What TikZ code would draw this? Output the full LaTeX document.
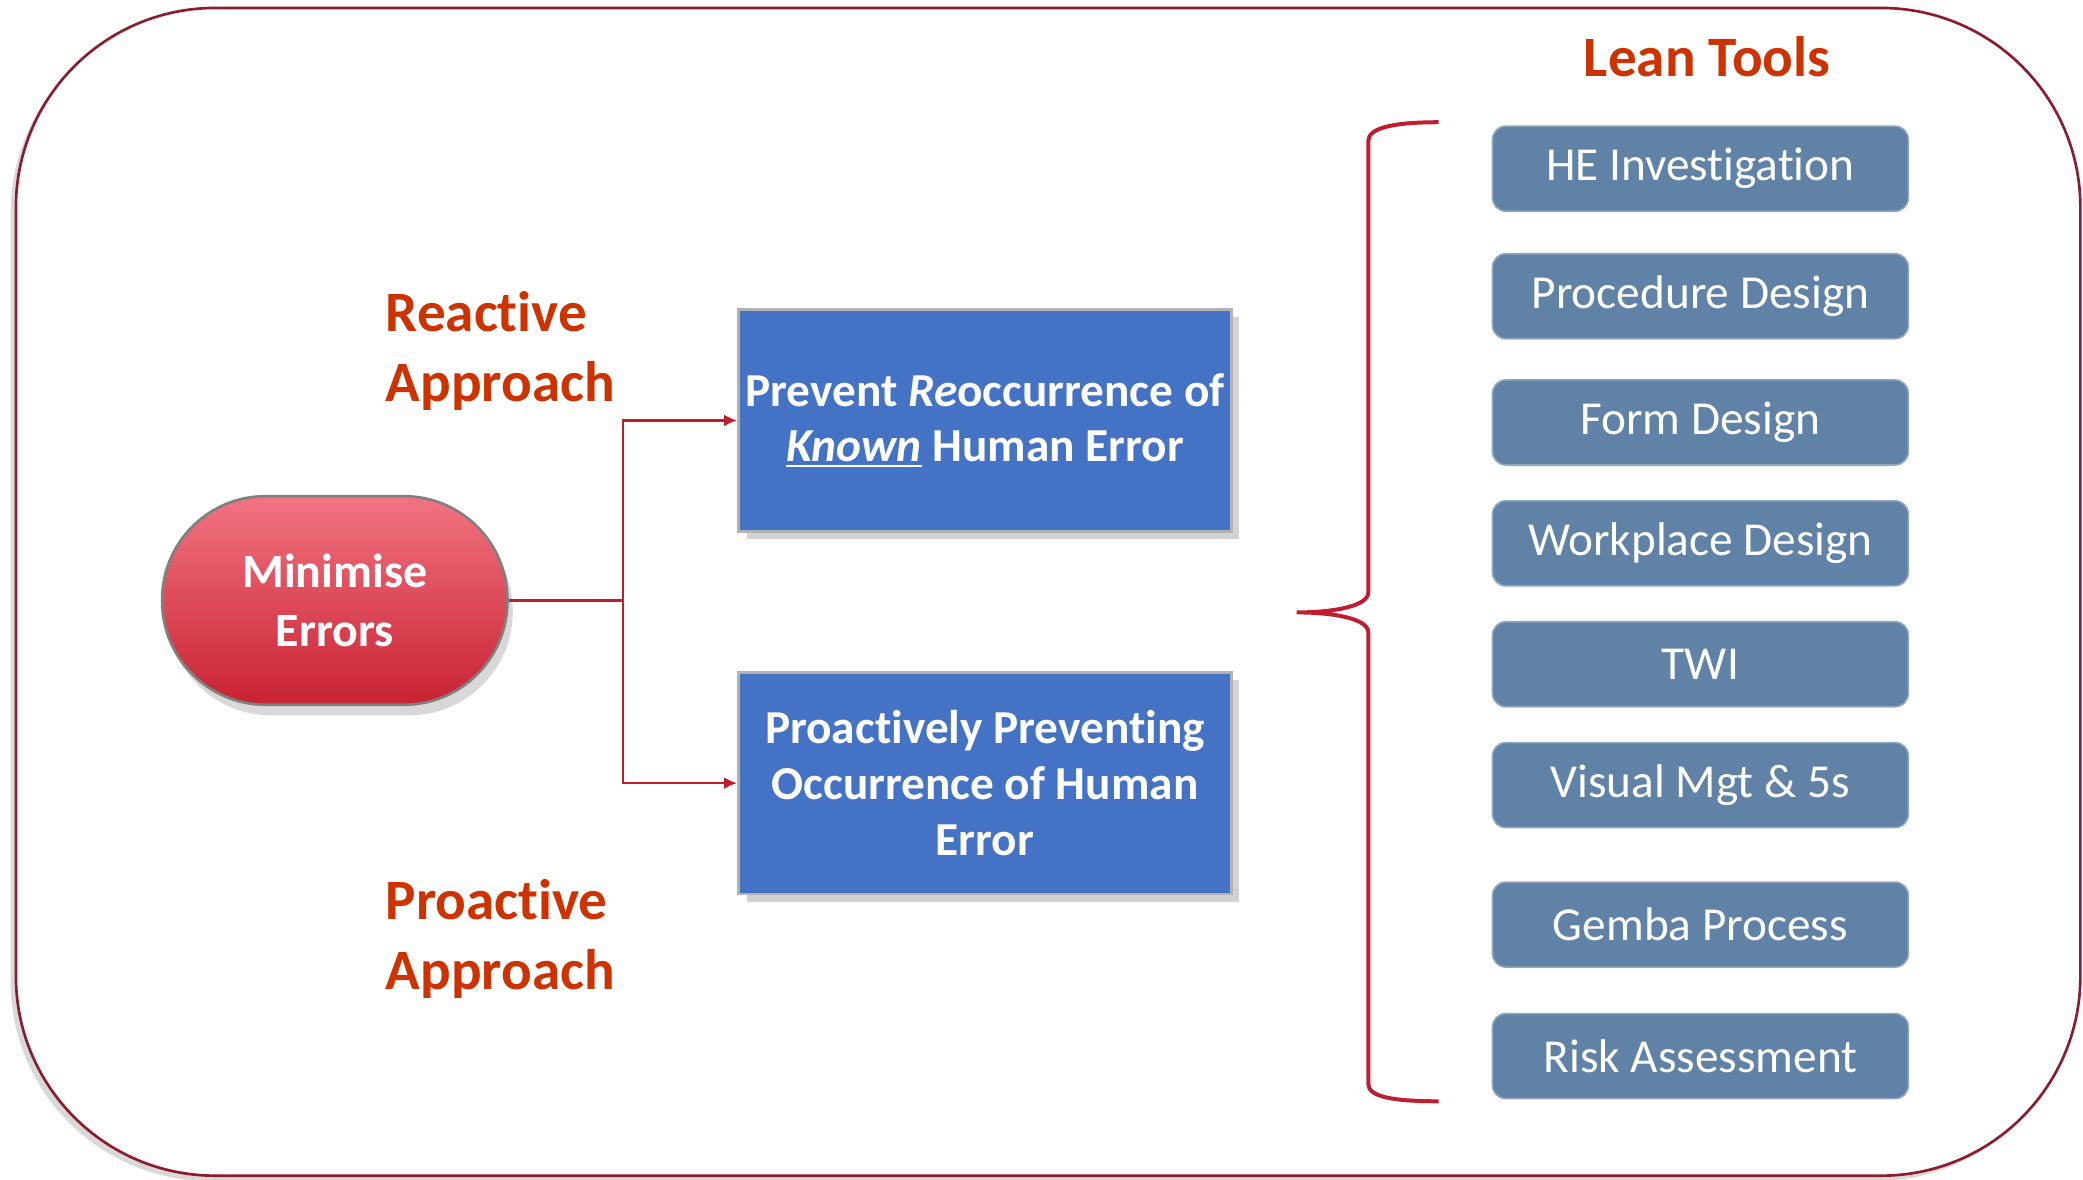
\documentclass[tikz,border=0pt]{standalone}
\usepackage{fontspec}
\setmainfont{Carlito}[Ligatures=NoCommon]
\usetikzlibrary{shadows,arrows.meta}

\definecolor{frameRed}{RGB}{140,28,44}
\definecolor{headOrange}{RGB}{204,51,0}
\definecolor{linkRed}{RGB}{192,30,48}
\definecolor{goalBlue}{RGB}{68,114,196}
\definecolor{toolBlue}{RGB}{95,130,166}
\definecolor{minTop}{RGB}{242,116,130}
\definecolor{minBot}{RGB}{200,34,50}

\begin{document}
\begin{tikzpicture}[x=0.5pt,y=-0.5pt,
  headtext/.style={text=headOrange,font=\fontsize{21.5}{26.5}\selectfont\bfseries,inner sep=0pt},
  goalbox/.style={rectangle,fill=goalBlue,draw=black!30,line width=1pt,text=white,align=center,
    minimum width=185.5pt,minimum height=83.5pt,inner sep=0pt,
    font=\fontsize{17.8}{21}\selectfont\bfseries,
    drop shadow={shadow xshift=3pt,shadow yshift=-3pt,opacity=.35}},
  toolbox/.style={rectangle,rounded corners=5pt,fill=toolBlue,draw=toolBlue!70!white,line width=.6pt,
    text=white,minimum width=156.5pt,minimum height=32pt,inner sep=0pt,
    font=\fontsize{17.8}{21}\selectfont},
  link/.style={draw=linkRed,line width=1pt},
  brace/.style={draw=linkRed,line width=1.5pt}]

\useasboundingbox (0,0) rectangle (1568,888);

\draw[frameRed,line width=1pt,fill=white,rounded corners=75pt,
  drop shadow={shadow xshift=-2pt,shadow yshift=-2pt,opacity=.3}] (12,6) rectangle (1566,885);% рамка

\node[headtext] (lean) at (1285,43) {Lean Tools};
\node[headtext,anchor=west,align=left] (reacl) at (290,264) {Reactive\\Approach};
\node[headtext,anchor=west,align=left] (proacl) at (290,707) {Proactive\\Approach};

\node[rectangle,rounded corners=39pt,minimum width=130pt,minimum height=78.5pt,
  top color=minTop,bottom color=minBot,draw=black!50,line width=1pt,text=white,align=center,
  font=\fontsize{18}{22}\selectfont\bfseries,inner sep=0pt,
  drop shadow={shadow xshift=2pt,shadow yshift=-4pt,opacity=.3}] (min) at (252,452) {Minimise\\Errors};% цель

\node[goalbox] (reac) at (741.5,316.5) {Prevent \textit{Re}occurrence of\\\underline{\textit{Known}} Human Error};
\node[goalbox] (proac) at (741.5,589.5) {Proactively Preventing\\Occurrence of Human\\Error};

\coordinate (split) at (469,452);
\draw[link] (min.east) -- (split);
\draw[link,-{Latex[length=5pt,width=4.5pt]}] (split) |- (reac.west);% стрелки
\draw[link,-{Latex[length=5pt,width=4.5pt]}] (split) |- (proac.west);

\node[toolbox] (he) at (1280,127) {HE Investigation};
\node[toolbox] (proc) at (1280,223) {Procedure Design};
\node[toolbox] (form) at (1280,318) {Form Design};
\node[toolbox] (work) at (1280,409) {Workplace Design};% инструменты
\node[toolbox] (twi) at (1280,500) {TWI};
\node[toolbox] (vis) at (1280,591) {Visual Mgt \& 5s};
\node[toolbox] (gemba) at (1280,696) {Gemba Process};
\node[toolbox] (risk) at (1280,795) {Risk Assessment};

\coordinate (bt) at (1083,92);
\coordinate (tip) at (976,461);% скобка
\coordinate (bb) at (1083,829);
\draw[brace] (bt) .. controls (1050,92) and (1030,96) .. (1030,106) -- (1030,446)
  .. controls (1030,456) and (1005,461) .. (tip)
  .. controls (1005,461) and (1030,466) .. (1030,476) -- (1030,816)
  .. controls (1030,826) and (1050,829) .. (bb);

\end{tikzpicture}
\end{document}
